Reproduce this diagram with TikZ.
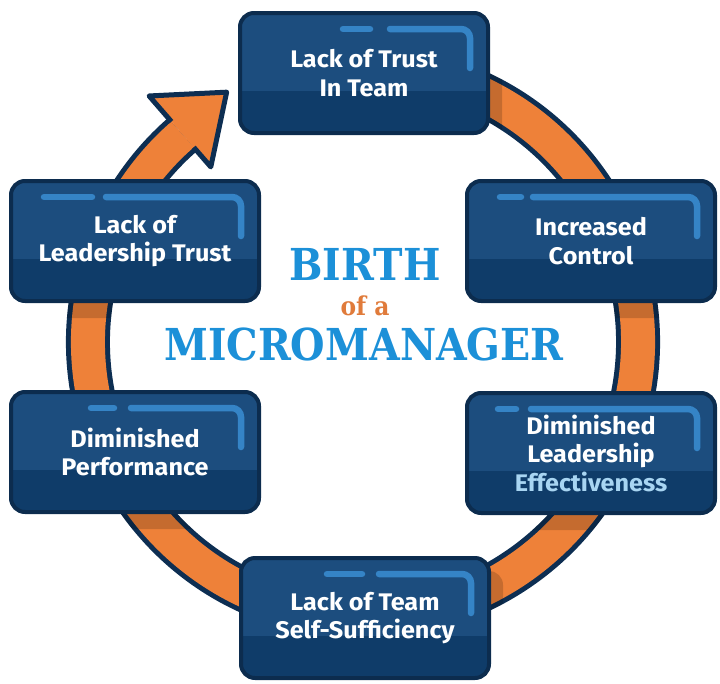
\documentclass[tikz,border=0pt]{standalone}
\usepackage{fontspec}
\setmainfont[FakeStretch=1.05]{Fira Sans}
\newfontfamily\titlefont[FakeStretch=0.9]{DejaVu Serif}
\usetikzlibrary{calc}
\usetikzlibrary{positioning}
\usetikzlibrary{backgrounds}

\definecolor{ringorange}{HTML}{EE8139}
\definecolor{ringedge}{HTML}{0D2E52}
\definecolor{boxtop}{HTML}{1C4D7E}
\definecolor{boxlow}{HTML}{0F3C69}
\definecolor{boxedge}{HTML}{0C2C4E}
\definecolor{glint}{HTML}{3584C6}
\definecolor{titleblue}{HTML}{1C90D8}
\definecolor{titleorange}{HTML}{E07B3B}
\definecolor{effblue}{HTML}{A8D5F2}

\tikzset{
  issue/.style n args={3}{draw=boxedge, line width=4pt, fill=boxtop, rounded corners=14pt,
    minimum width=248pt, minimum height=120pt, align=center, text=white,
    font=\bfseries\fontsize{24}{28.5}\selectfont,
    path picture={
      \fill[boxlow, sharp corners] (path picture bounding box.south west) rectangle ($(path picture bounding box.south east)+(0,42)$);
      \draw[glint, line width=6.5pt, line cap=round, sharp corners] ($(path picture bounding box.north west)+(#1,-16)$) -- ++(#2,0);
      \draw[glint, line width=6.5pt, line cap=round, rounded corners=9pt] ($(path picture bounding box.north west)+(#3,-16)$) -- ($(path picture bounding box.north east)+(-18,-16)$) -- ++(0,-39);
    }},
  bigtitle/.style={font=\titlefont\bfseries\fontsize{44}{44}\selectfont, text=titleblue, anchor=base},
}

\begin{document}
\begin{tikzpicture}[x=1pt, y=1pt]

    \useasboundingbox (0,0) rectangle (720,-683);

    \coordinate (hub) at (363,-342);

    % the six stages, clockwise from the top
    \node[issue={103}{27}{150}] (trust) at (364,-73) {Lack of Trust\\In Team};
    \node[issue={33}{21}{66}] (control) at (591,-241) {Increased\\Control};
    \node[issue={31}{18}{64}] (effect) at (591,-453) {Diminished\\Leadership\\\textcolor{effblue}{Effectiveness}};
    \node[issue={86}{35}{138}] (selfsuff) at (365,-618) {Lack of Team\\Self-Sufficiency};
    \node[issue={80}{23}{120}] (perform) at (135,-452) {Diminished\\Performance};
    \node[issue={33}{48}{95}] (leadtrust) at (135,-241) {Lack of\\Leadership Trust};

    \node[bigtitle] (birth) at (365,-280) {BIRTH};
    \node[bigtitle, font=\titlefont\bfseries\fontsize{26}{26}\selectfont, text=titleorange] (ofa) at (365,-315) {of a};
    \node[bigtitle] (micro) at (364,-360) {MICROMANAGER};

    \begin{scope}[on background layer]
        \draw[ringedge, line width=44pt] ($(hub)+(75:275pt)$) arc[start angle=75, end angle=-229, radius=275pt];
        \draw[ringorange, line width=34pt] ($(hub)+(75:275pt)$) arc[start angle=75, end angle=-229, radius=275pt];
        % shade of the boxes on the ring
        \begin{scope}[even odd rule]
            \clip (hub) circle[radius=297pt] (hub) circle[radius=253pt];
            \foreach \b in {trust,control,effect,selfsuff,perform,leadtrust}
                \fill[black, opacity=.17, rounded corners=14pt] ($(\b.south west)+(12,-15)$) rectangle ($(\b.north east)+(12,-15)$);
        \end{scope}
        \begin{scope}[shift={($(hub)+(131:275pt)$)}, rotate=41]
            \fill[ringorange] (0,-43) -- (61,3) -- (0,51) -- cycle;
            \draw[ringedge, line width=5pt, line join=round] (0,17) -- (0,51) -- (61,3) -- (0,-43) -- (0,-17);
        \end{scope}
    \end{scope}

\end{tikzpicture}
\end{document}
